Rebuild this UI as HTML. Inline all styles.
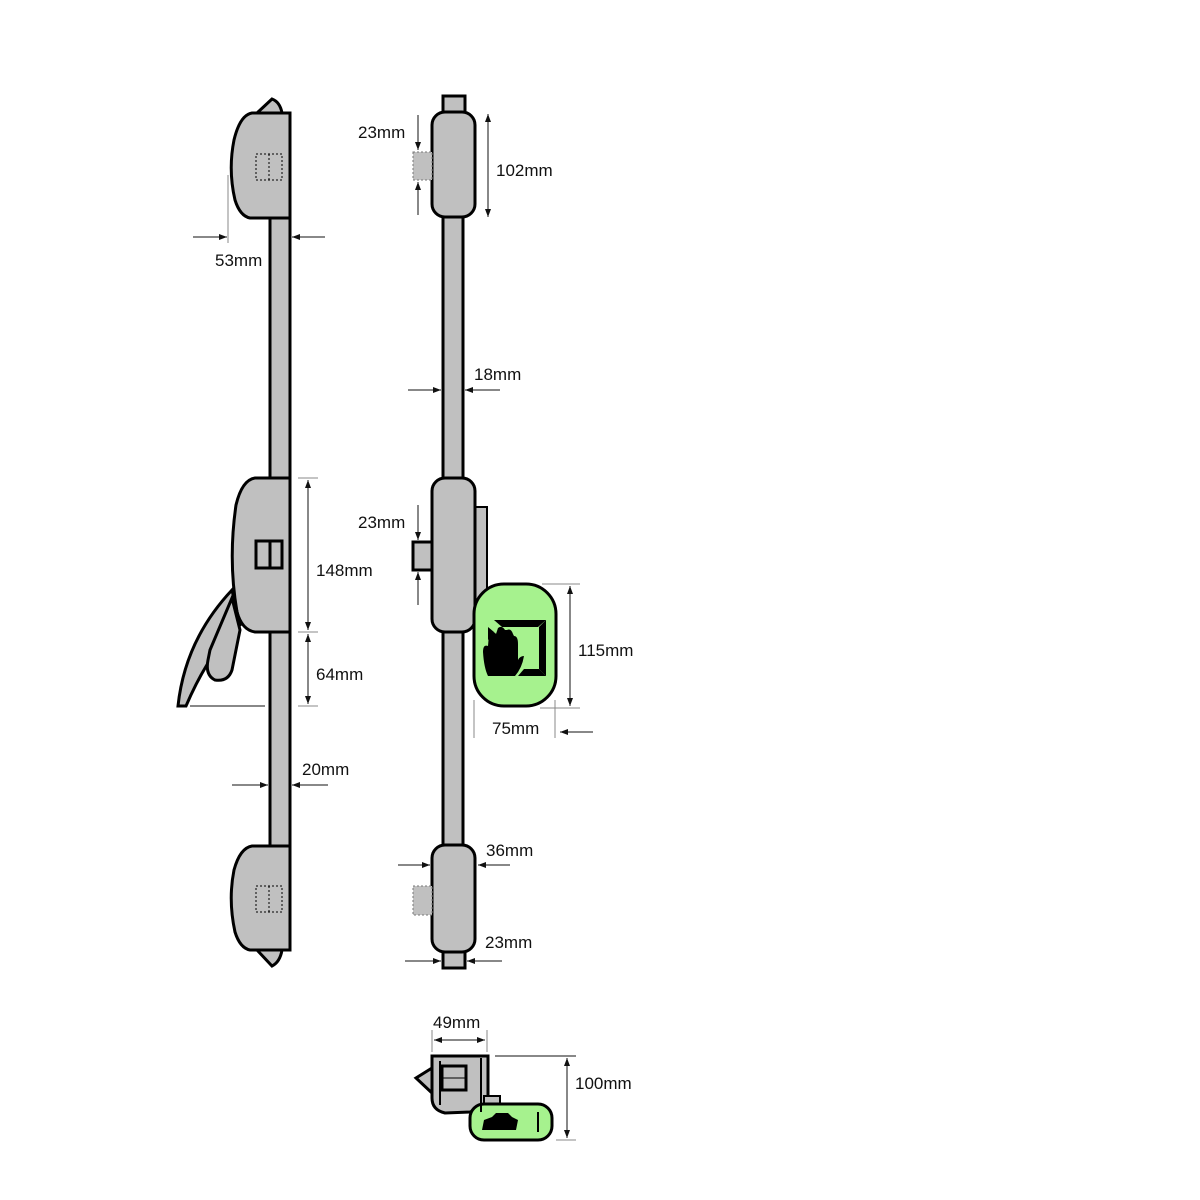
<!DOCTYPE html>
<html><head><style>html,body{margin:0;padding:0;background:#fff}svg{display:block}text{font-family:"Liberation Sans",sans-serif;font-size:17px;fill:#111}</style></head>
<body>
<svg width="1200" height="1200" viewBox="0 0 1200 1200" xmlns="http://www.w3.org/2000/svg">
<defs><marker id="a" markerWidth="8" markerHeight="6" refX="8" refY="3" orient="auto"><path d="M0,0 L8,3 L0,6z" fill="#111"/></marker></defs>
<g stroke="#000" stroke-width="3" fill="#c0c0c0">
<rect x="270" y="216" width="20" height="632"/>
<path d="M257,113 L272,99 Q280,102 282,113z"/>
<path d="M290,113 L290,218 L250,218 Q240,216 235,200 Q228,170 234,140 Q240,115 252,113z"/>
<path d="M290,478 L290,632 L255,632 Q242,630 237,612 Q228,560 236,505 Q242,480 255,478z"/>
<path d="M178,706 Q185,640 232,590 L240,625 Q210,650 186,706z"/>
<path d="M232,598 L240,630 L232,670 Q228,682 215,680 Q205,675 208,660 L210,650z"/>
<path d="M290,846 L290,950 L250,950 Q240,948 235,932 Q228,900 234,870 Q240,848 252,846z"/>
<path d="M257,950 L272,966 Q280,962 282,950z"/>
<rect x="443" y="96" width="22" height="18"/>
<rect x="443" y="215" width="20" height="632"/>
<rect x="432" y="112" width="43" height="105" rx="13"/>
<rect x="475" y="507" width="12" height="93" stroke-width="2"/>
<rect x="413" y="542" width="19" height="28"/>
<rect x="432" y="478" width="43" height="154" rx="13"/>
<rect x="443" y="950" width="22" height="18"/>
<rect x="432" y="845" width="43" height="107" rx="13"/>
<rect x="474" y="584" width="82" height="122" rx="30" fill="#a6f28e"/>
<path d="M432,1068 L416,1078 L432,1093z" />
<path d="M432,1056 L488,1056 L488,1105 L470,1112 L445,1113 Q432,1110 432,1098z"/>
<rect x="484" y="1096" width="16" height="10" stroke-width="2"/>
<rect x="470" y="1104" width="82" height="36" rx="14" fill="#a6f28e"/>
</g>
<g fill="none" stroke="#000">
<rect x="256" y="154" width="26" height="26" stroke-dasharray="2,2" stroke-width="1"/>
<line x1="269" y1="154" x2="269" y2="180" stroke-dasharray="2,2"/>
<rect x="256" y="541" width="26" height="27" stroke-width="3"/>
<line x1="270" y1="541" x2="270" y2="568" stroke-width="3"/>
<rect x="256" y="886" width="26" height="26" stroke-dasharray="2,2" stroke-width="1"/>
<line x1="269" y1="886" x2="269" y2="912" stroke-dasharray="2,2"/>
<rect x="413" y="152" width="19" height="28" fill="#c0c0c0" stroke="#777" stroke-dasharray="2,2"/>
<rect x="413" y="886" width="19" height="29" fill="#c0c0c0" stroke="#777" stroke-dasharray="2,2"/>
<line x1="440" y1="1061" x2="440" y2="1105" stroke-width="2"/>
<line x1="481" y1="1058" x2="481" y2="1112" stroke-width="2"/>
<rect x="442" y="1066" width="24" height="24" stroke-width="3"/>
<line x1="442" y1="1078" x2="466" y2="1078" stroke-width="1"/>
</g>
<g fill="#000">
<path d="M494,620 L546,620 L538,627 L502,627z"/>
<path d="M546,620 L546,676 L539,669 L539,627z"/>
<path d="M518,676 L546,676 L539,669 L524,669z"/>
<path d="M488,627 L494,632 L488,640z"/>
<path d="M483,652 Q483,644 488,646 L489,634 Q493,630 496,634 L498,628 Q502,625 505,630 L507,630 Q511,628 513,634 L514,636 Q518,636 518,644 L518,660 Q520,656 524,656 Q522,668 515,676 L488,676 Q484,668 483,652z"/>
<path d="M482,1130 L484,1120 L492,1117 L496,1113 L508,1113 L512,1117 L518,1120 L516,1130z"/>
<line x1="538" y1="1112" x2="538" y2="1132" stroke="#000" stroke-width="2"/>
</g>
<g stroke="#111" stroke-width="1" fill="none">
<line x1="228" y1="175" x2="228" y2="243" stroke="#888"/>
<line x1="193" y1="237" x2="227" y2="237" marker-end="url(#a)"/>
<line x1="325" y1="237" x2="292" y2="237" marker-end="url(#a)"/>
<line x1="298" y1="478" x2="318" y2="478" stroke="#888"/>
<line x1="298" y1="632" x2="318" y2="632" stroke="#888"/>
<line x1="298" y1="706" x2="318" y2="706" stroke="#888"/>
<line x1="190" y1="706" x2="265" y2="706"/>
<line x1="308" y1="555" x2="308" y2="480" marker-end="url(#a)"/>
<line x1="308" y1="555" x2="308" y2="630" marker-end="url(#a)"/>
<line x1="308" y1="668" x2="308" y2="634" marker-end="url(#a)"/>
<line x1="308" y1="668" x2="308" y2="704" marker-end="url(#a)"/>
<line x1="232" y1="785" x2="268" y2="785" marker-end="url(#a)"/>
<line x1="328" y1="785" x2="292" y2="785" marker-end="url(#a)"/>
<line x1="418" y1="115" x2="418" y2="150" marker-end="url(#a)"/>
<line x1="418" y1="215" x2="418" y2="182" marker-end="url(#a)"/>
<line x1="488" y1="165" x2="488" y2="114" marker-end="url(#a)"/>
<line x1="488" y1="165" x2="488" y2="217" marker-end="url(#a)"/>
<line x1="408" y1="390" x2="441" y2="390" marker-end="url(#a)"/>
<line x1="500" y1="390" x2="465" y2="390" marker-end="url(#a)"/>
<line x1="418" y1="505" x2="418" y2="540" marker-end="url(#a)"/>
<line x1="418" y1="605" x2="418" y2="572" marker-end="url(#a)"/>
<line x1="542" y1="584" x2="580" y2="584" stroke="#888"/>
<line x1="540" y1="708" x2="580" y2="708" stroke="#888"/>
<line x1="570" y1="645" x2="570" y2="586" marker-end="url(#a)"/>
<line x1="570" y1="645" x2="570" y2="706" marker-end="url(#a)"/>
<line x1="474" y1="700" x2="474" y2="738" stroke="#888"/>
<line x1="555" y1="700" x2="555" y2="738" stroke="#888"/>
<line x1="593" y1="732" x2="560" y2="732" marker-end="url(#a)"/>
<line x1="398" y1="865" x2="430" y2="865" marker-end="url(#a)"/>
<line x1="510" y1="865" x2="478" y2="865" marker-end="url(#a)"/>
<line x1="405" y1="961" x2="441" y2="961" marker-end="url(#a)"/>
<line x1="502" y1="961" x2="467" y2="961" marker-end="url(#a)"/>
<line x1="432" y1="1030" x2="432" y2="1052" stroke="#888"/>
<line x1="487" y1="1030" x2="487" y2="1052" stroke="#888"/>
<line x1="460" y1="1040" x2="434" y2="1040" marker-end="url(#a)"/>
<line x1="460" y1="1040" x2="485" y2="1040" marker-end="url(#a)"/>
<line x1="495" y1="1056" x2="576" y2="1056"/>
<line x1="556" y1="1140" x2="576" y2="1140" stroke="#888"/>
<line x1="567" y1="1098" x2="567" y2="1058" marker-end="url(#a)"/>
<line x1="567" y1="1098" x2="567" y2="1138" marker-end="url(#a)"/>
</g>
<text x="215" y="266">53mm</text>
<text x="316" y="576">148mm</text>
<text x="316" y="680">64mm</text>
<text x="302" y="775">20mm</text>
<text x="358" y="138">23mm</text>
<text x="496" y="176">102mm</text>
<text x="474" y="380">18mm</text>
<text x="358" y="528">23mm</text>
<text x="578" y="656">115mm</text>
<text x="492" y="734">75mm</text>
<text x="486" y="856">36mm</text>
<text x="485" y="948">23mm</text>
<text x="433" y="1028">49mm</text>
<text x="575" y="1089">100mm</text>
</svg>
</body></html>
